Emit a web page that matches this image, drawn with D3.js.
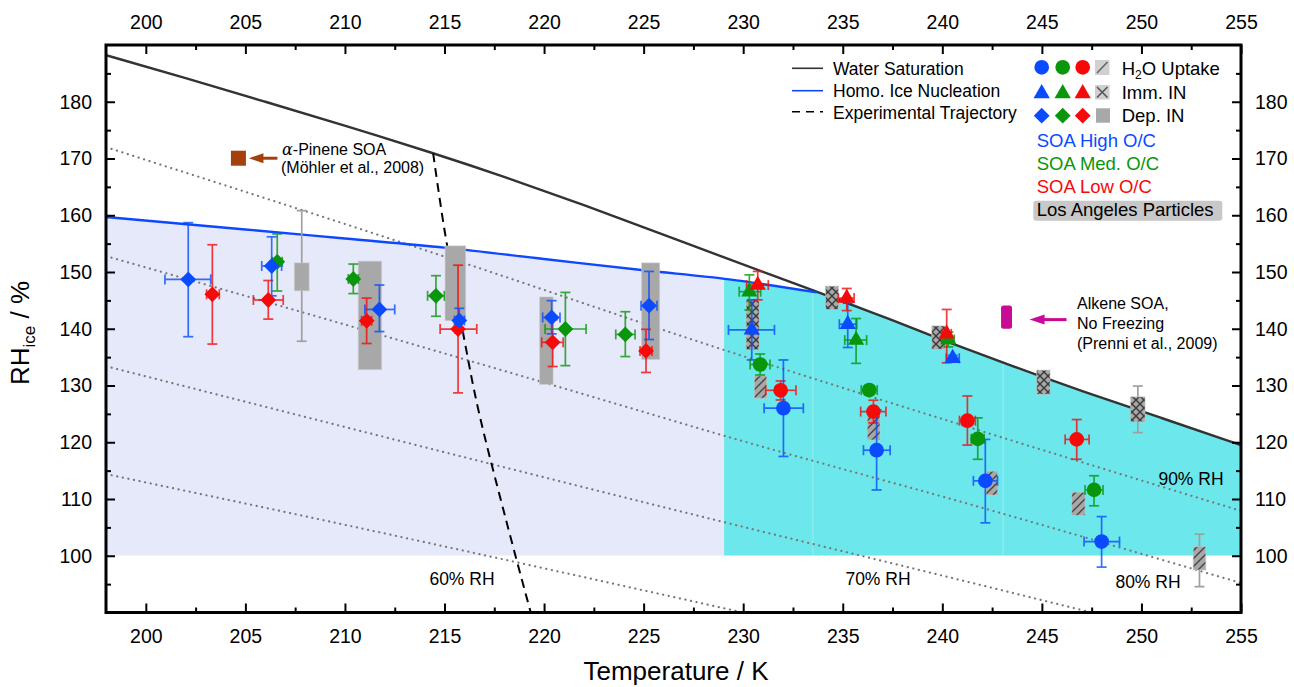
<!DOCTYPE html>
<html><head><meta charset="utf-8">
<script src="https://cdn.jsdelivr.net/npm/d3@7"></script>
<style>
html,body{margin:0;padding:0;background:#fff;}
svg{display:block;font-family:"Liberation Sans",Arial,Helvetica,sans-serif;}
</style></head><body>
<svg id="chart" width="1294" height="687"></svg>
<script>
// ---------------- DATA ----------------
const xTicksMajor = [200,205,210,215,220,225,230,235,240,245,250,255];
const xTicksMinor = [202.5,207.5,212.5,217.5,222.5,227.5,232.5,237.5,242.5,247.5,252.5];
const yTicksMajor = [100,110,120,130,140,150,160,170,180];
const yTicksMinor = [95,105,115,125,135,145,155,165,175,185];

// Water saturation line (RH_ice at RH_w = 100%)
const waterT  = [198,202,206,210,214.4,218,222,226,229.3,233.9,237,240,243.4,247,251,255];
const waterRH = [188.2,184.2,180.0,175.8,171.0,166.8,161.8,156.6,152.2,146.3,142.2,138.0,133.6,129.0,124.3,119.5];
// Homogeneous ice nucleation line
const homoT  = [198,205,210,215,220,225,229.3,233.7];
const homoRH = [159.7,157.5,155.9,154.3,152.3,150.3,148.7,146.4];
// Constant RH (w.r.t. water) lines
const rh90T = [198,215.1,228.3,243.4,255];          const rh90 = [172.0,152.6,137.1,120.4,107.9];
const rh80T = [198,209.25,224.65,228.3,242.05,255]; const rh80 = [152.8,141.5,125.7,121.9,108.4,95.2];
const rh70T = [198,228.6,242.9,247.5];              const rh70 = [133.4,106.3,94.0,90.0];
const rh60T = [198,208.87,230.0];                   const rh60 = [114.4,106.3,90.0];
// Experimental trajectory
const trajT  = [214.43,215.0,216.0,216.7,218.09,219.33];
const trajRH = [170.9,157.4,138.0,125.7,106.3,90.0];
// Region split (temperature)
const regionEdges = [198,229.04,255];
const regionSeams = [233.5,243.05];

// SOA series: [T, RH, Tlo, Thi, RHlo, RHhi]
const depHigh = [[202.13,148.7,200.96,203.26,138.6,158.7],[206.32,151.06,205.82,206.82,145.8,156.2],[211.73,143.4,211.0,212.5,139.5,147.7],[215.74,141.45,215.5,216.0,139.3,143.6],[220.38,142.0,219.93,220.8,139.1,144.95],[225.27,144.06,224.87,225.67,138.1,150.1]];
const depMed  = [[206.6,151.8,206.35,206.85,146.65,156.7],[210.42,148.77,210.17,210.67,146.2,151.4],[214.57,145.8,214.15,214.99,142.2,149.35],[221.07,139.96,220.05,222.11,133.5,146.4],[224.08,139.0,223.6,224.57,135.1,143.0]];
const depLow  = [[203.34,146.07,203.05,203.69,137.3,154.8],[206.15,145.07,205.4,206.9,141.7,148.5],[211.09,141.4,210.84,211.34,137.4,145.4],[215.68,139.95,214.78,216.62,128.7,151.2],[220.43,137.6,219.88,220.96,133.35,141.6],[225.12,136.1,224.82,225.42,132.3,139.9]];
const immHigh = [[230.43,139.8,229.26,231.57,134.5,145.1],[235.25,140.8,234.83,235.7,136.7,144.5],[240.52,134.8,240.2,240.85,134.3,135.3]];
const immMed  = [[230.31,146.53,229.8,230.88,143.3,149.5],[235.67,138.0,235.1,236.2,133.9,141.8],[240.3,138.1,240.0,240.6,136.8,139.4]];
const immLow  = [[230.73,147.7,230.17,231.26,145.1,150.1],[235.2,145.4,234.78,235.57,143.2,147.1],[240.22,139.1,240.0,240.45,134.0,143.4]];
const uptHigh = [[232.02,126.0,231.05,233.02,117.5,134.5],[236.7,118.6,236.04,237.38,111.6,125.7],[242.16,113.2,241.56,242.77,105.8,120.5],[248.0,102.5,247.12,248.9,98.0,106.9]];
const uptMed  = [[230.85,133.7,230.35,231.35,131.85,135.55],[236.33,129.2,235.93,236.73,128.4,130.0],[241.78,120.6,241.45,242.1,117.0,124.3],[247.62,111.6,247.17,248.07,108.8,114.1]];
const uptLow  = [[231.88,129.15,231.13,232.65,127.45,130.8],[236.54,125.4,235.9,237.17,123.4,127.4],[241.26,123.8,240.86,241.66,119.5,128.15],[246.75,120.5,246.17,247.37,117.0,124.0]];

// Los Angeles particles: [Tmin, Tmax, RHmin, RHmax, errLo, errHi]
const laDep = [[207.46,208.2,146.7,151.6,137.8,160.8],[210.67,211.84,132.8,151.9],[215.03,216.06,141.45,154.6],[219.78,220.45,130.2,145.6],[224.9,225.8,134.6,151.6]];
const laImm = [[230.15,230.8,136.3,145.1],[234.13,234.78,143.4,147.5],[239.47,240.14,136.4,140.5],[244.74,245.41,128.45,132.7],[249.46,250.18,123.6,128.0,121.7,129.9]];
const laUpt = [[230.56,231.18,127.75,131.7],[236.23,236.87,120.4,125.1],[242.2,242.78,110.7,114.9],[246.5,247.17,107.1,111.2],[252.6,253.23,97.5,101.6,94.55,103.8]];

// Literature points
const moehlerPoint = [204.65,170.05];
const alkeneBox = [242.95,243.5,140.0,144.1];

// ---------------- STYLE ----------------
const C = {blue:'#0a4bff', green:'#0a960a', red:'#f50a0a', lav:'#e6e9fa', cyan:'#6ce8ec',
           water:'#333333', homo:'#0d47ff', dot:'#777777', la:'#a8a8a8', brown:'#a3400b', mag:'#c80a96'};

const svg = d3.select('#chart');
const x = d3.scaleLinear().domain([198,255]).range([106,1241]);
const y = d3.scaleLinear().domain([90,190]).range([612.5,45]);
const defs = svg.append('defs');
defs.append('clipPath').attr('id','plotClip').append('rect')
  .attr('x',x(198)).attr('y',y(190)).attr('width',x(255)-x(198)).attr('height',y(90)-y(190));

function mkPattern(id,bg,d,stroke){
  const p = defs.append('pattern').attr('id',id).attr('patternUnits','userSpaceOnUse').attr('width',8).attr('height',8);
  p.append('rect').attr('width',8).attr('height',8).attr('fill',bg);
  p.append('path').attr('d',d).attr('stroke',stroke).attr('stroke-width',1.4).attr('fill','none');
}
mkPattern('hatch',C.la,'M-2,2L2,-2M0,8L8,0M6,10L10,6','#454545');
mkPattern('xhatch',C.la,'M0,0L8,8M8,0L0,8','#383838');

const zip = (a,b)=>a.map((v,i)=>[v,b[i]]);
const line = d3.line().x(d=>x(d[0])).y(d=>y(d[1]));

// ---- filled regions ----
const boundary = zip(homoT,homoRH).concat(zip(waterT,waterRH).filter(d=>d[0]>homoT[homoT.length-1]));
defs.append('clipPath').attr('id','regionClip').append('path')
  .attr('d', d3.area().x(d=>x(d[0])).y0(y(100)).y1(d=>y(d[1])).curve(d3.curveMonotoneX)(boundary));
const plot = svg.append('g').attr('clip-path','url(#plotClip)');
const regions = plot.append('g').attr('clip-path','url(#regionClip)');
regions.selectAll('rect').data([[regionEdges[0],regionEdges[1],C.lav],[regionEdges[1],regionEdges[2],C.cyan]])
  .join('rect').attr('x',d=>x(d[0])).attr('width',d=>x(d[1])-x(d[0]))
  .attr('y',y(190)).attr('height',y(100)-y(190)).attr('fill',d=>d[2]);
regions.selectAll('line').data(regionSeams).join('line')
  .attr('x1',d=>x(d)).attr('x2',d=>x(d)).attr('y1',y(190)).attr('y2',y(100))
  .attr('stroke','rgba(255,255,255,0.3)').attr('stroke-width',1);

// ---- dotted RH lines ----
[[rh90T,rh90],[rh80T,rh80],[rh70T,rh70],[rh60T,rh60]].forEach(([t,v])=>{
  plot.append('path').attr('d',line.curve(d3.curveMonotoneX)(zip(t,v)))
    .attr('fill','none').attr('stroke',C.dot).attr('stroke-width',2.2)
    .attr('stroke-dasharray','0.1,5.6').attr('stroke-linecap','round');
});

// ---- water saturation & homo lines ----
plot.append('path').attr('d',line.curve(d3.curveBasis)(zip(waterT,waterRH)))
  .attr('fill','none').attr('stroke',C.water).attr('stroke-width',2.4);
plot.append('path').attr('d',line.curve(d3.curveMonotoneX)(zip(homoT,homoRH)))
  .attr('fill','none').attr('stroke',C.homo).attr('stroke-width',2.4);
// ---- trajectory ----
plot.append('path').attr('d',line.curve(d3.curveCatmullRom)(zip(trajT,trajRH)))
  .attr('fill','none').attr('stroke','#000').attr('stroke-width',2).attr('stroke-dasharray','9,6');

// ---- RH labels ----
const rhLabels = [['60% RH',462,585],['70% RH',878,585],['80% RH',1148,588],['90% RH',1191,485]];
svg.append('g').selectAll('text').data(rhLabels).join('text')
  .attr('x',d=>d[1]).attr('y',d=>d[2]).attr('text-anchor','middle').attr('font-size',17.5).attr('fill','#000').text(d=>d[0]);

// ---- LA particles ----
function errBarV(g,xc,lo,hi,color,cap){
  g.append('line').attr('x1',xc).attr('x2',xc).attr('y1',y(lo)).attr('y2',y(hi)).attr('stroke',color).attr('stroke-width',1.7);
  [lo,hi].forEach(v=>g.append('line').attr('x1',xc-cap).attr('x2',xc+cap).attr('y1',y(v)).attr('y2',y(v)).attr('stroke',color).attr('stroke-width',1.7));
}
function errBarH(g,yc,lo,hi,color,cap){
  g.append('line').attr('y1',yc).attr('y2',yc).attr('x1',x(lo)).attr('x2',x(hi)).attr('stroke',color).attr('stroke-width',1.7);
  [lo,hi].forEach(v=>g.append('line').attr('y1',yc-cap).attr('y2',yc+cap).attr('x1',x(v)).attr('x2',x(v)).attr('stroke',color).attr('stroke-width',1.7));
}
const laG = plot.append('g');
[[laDep,C.la],[laImm,'url(#xhatch)'],[laUpt,'url(#hatch)']].forEach(([arr,fill])=>{
  arr.forEach(d=>{
    if(d.length>4) errBarV(laG,(x(d[0])+x(d[1]))/2,d[4],d[5],'#a0a0a0',5);
    laG.append('rect').attr('x',x(d[0])).attr('width',x(d[1])-x(d[0]))
      .attr('y',y(d[3])).attr('height',y(d[2])-y(d[3])).attr('fill',fill)
      .attr('stroke','rgba(200,200,200,0.6)').attr('stroke-width',1);
  });
});

// ---- SOA markers ----
const symCircle = d3.symbol().type(d3.symbolCircle).size(170)();
const symTri = d3.symbol().type(d3.symbolTriangle).size(115)();
const symDia = d3.symbol().type(d3.symbolSquare).size(125)();
const shapes = {circle:[symCircle,0], tri:[symTri,0], dia:[symDia,45]};
const series = [
  [depLow,C.red,'dia'],[depMed,C.green,'dia'],[depHigh,C.blue,'dia'],
  [immHigh,C.blue,'tri'],[immMed,C.green,'tri'],[immLow,C.red,'tri'],
  [uptMed,C.green,'circle'],[uptLow,C.red,'circle'],[uptHigh,C.blue,'circle']
];
const mG = plot.append('g');
series.forEach(([arr,col,sh])=>{
  arr.forEach(d=>{
    const g = mG.append('g').attr('opacity',0.8);
    errBarV(g,x(d[0]),d[4],d[5],col,5);
    errBarH(g,y(d[1]),d[2],d[3],col,5);
  });
});
series.forEach(([arr,col,sh])=>{
  mG.append('g').selectAll('path').data(arr).join('path')
    .attr('d',shapes[sh][0]).attr('fill',col)
    .attr('transform',d=>`translate(${x(d[0])},${y(d[1])}) rotate(${shapes[sh][1]})`);
});

// ---- literature annotations ----
const mx = x(moehlerPoint[0]), my = y(moehlerPoint[1]);
svg.append('rect').attr('x',mx-7.5).attr('y',my-7.5).attr('width',15).attr('height',15).attr('fill',C.brown);
svg.append('line').attr('x1',mx+39).attr('x2',mx+22).attr('y1',my).attr('y2',my).attr('stroke',C.brown).attr('stroke-width',3);
svg.append('path').attr('d',`M${mx+10.5},${my}L${mx+25},${my-5}L${mx+25},${my+5}Z`).attr('fill',C.brown);
const at1 = svg.append('text').attr('x',282).attr('y',155).attr('font-size',16);
at1.append('tspan').attr('font-family','"DejaVu Serif","Liberation Serif",serif').attr('font-style','italic').text('α');
at1.append('tspan').text('-Pinene SOA');
svg.append('text').attr('x',281).attr('y',173).attr('font-size',16).text('(Möhler et al., 2008)');

const ax0 = x(alkeneBox[0]), ax1 = x(alkeneBox[1]);
svg.append('rect').attr('x',ax0).attr('width',ax1-ax0).attr('y',y(alkeneBox[3])).attr('height',y(alkeneBox[2])-y(alkeneBox[3]))
  .attr('rx',2.5).attr('fill',C.mag);
const acy = (y(alkeneBox[2])+y(alkeneBox[3]))/2 + 2.5, acx = (ax0+ax1)/2;
svg.append('line').attr('x1',acx+60).attr('x2',acx+34).attr('y1',acy).attr('y2',acy).attr('stroke',C.mag).attr('stroke-width',3);
svg.append('path').attr('d',`M${acx+23},${acy}L${acx+38},${acy-5}L${acx+38},${acy+5}Z`).attr('fill',C.mag);
[['Alkene SOA,',309],['No Freezing',329],['(Prenni et al., 2009)',349]].forEach(t=>
  svg.append('text').attr('x',1077).attr('y',t[1]).attr('font-size',16).text(t[0]));

// ---- axes ----
function styleAxis(g){
  g.select('.domain').remove();
  g.selectAll('.tick line').attr('stroke','#000').attr('stroke-width',2);
  g.selectAll('.tick text').attr('font-size',19.5).attr('fill','#000')
    .attr('font-family','"Liberation Sans",Arial,Helvetica,sans-serif');
}
const fmt = d3.format('d');
svg.append('g').attr('transform',`translate(0,${y(90)})`).call(d3.axisBottom(x).tickValues(xTicksMajor).tickSize(-9).tickPadding(17).tickFormat(fmt)).call(styleAxis);
svg.append('g').attr('transform',`translate(0,${y(90)})`).call(d3.axisBottom(x).tickValues(xTicksMinor).tickSize(-5).tickFormat('')).call(styleAxis);
svg.append('g').attr('transform',`translate(0,${y(190)})`).call(d3.axisTop(x).tickValues(xTicksMajor).tickSize(-9).tickPadding(16).tickFormat(fmt)).call(styleAxis);
svg.append('g').attr('transform',`translate(0,${y(190)})`).call(d3.axisTop(x).tickValues(xTicksMinor).tickSize(-5).tickFormat('')).call(styleAxis);
svg.append('g').attr('transform',`translate(${x(198)},0)`).call(d3.axisLeft(y).tickValues(yTicksMajor).tickSize(-9).tickPadding(14).tickFormat(fmt)).call(styleAxis);
svg.append('g').attr('transform',`translate(${x(198)},0)`).call(d3.axisLeft(y).tickValues(yTicksMinor).tickSize(-5).tickFormat('')).call(styleAxis);
svg.append('g').attr('transform',`translate(${x(255)},0)`).call(d3.axisRight(y).tickValues(yTicksMajor).tickSize(-9).tickPadding(14).tickFormat(fmt)).call(styleAxis);
svg.append('g').attr('transform',`translate(${x(255)},0)`).call(d3.axisRight(y).tickValues(yTicksMinor).tickSize(-5).tickFormat('')).call(styleAxis);
svg.append('rect').attr('x',x(198)).attr('y',y(190)).attr('width',x(255)-x(198)).attr('height',y(90)-y(190))
  .attr('fill','none').attr('stroke','#000').attr('stroke-width',3);

// axis titles
svg.append('text').attr('x',676).attr('y',680).attr('text-anchor','middle').attr('font-size',26).text('Temperature / K');
const yl = svg.append('text').attr('transform','translate(29,333) rotate(-90)').attr('text-anchor','middle').attr('font-size',26);
yl.append('tspan').text('RH');
yl.append('tspan').attr('font-size',17).attr('dy',6).text('ice');
yl.append('tspan').attr('dy',-6).text(' / %');

// ---- legend ----
const lg = svg.append('g');
const legLines = [['Water Saturation',C.water,null,68.3,75],['Homo. Ice Nucleation',C.homo,null,90.7,97],['Experimental Trajectory','#000','8,6',111.7,118.5]];
legLines.forEach(r=>{
  lg.append('line').attr('x1',792).attr('x2',823).attr('y1',r[3]).attr('y2',r[3]).attr('stroke',r[1]).attr('stroke-width',1.6).attr('stroke-dasharray',r[2]);
  lg.append('text').attr('x',833).attr('y',r[4]).attr('font-size',17.5).text(r[0]);
});
const legCols = [C.blue,C.green,C.red], legX = [1041.7,1062.7,1082.7];
[[symCircle,0,67.3],[symTri,0,93.5],[symDia,45,115.7]].forEach(r=>{
  legCols.forEach((c,i)=>lg.append('path').attr('d',r[0]).attr('fill',c).attr('transform',`translate(${legX[i]},${r[2]}) rotate(${r[1]})`));
});
lg.append('rect').attr('x',1095).attr('y',60).attr('width',14.5).attr('height',15).attr('fill','#d0d0d0');
lg.append('line').attr('x1',1097).attr('y1',73).attr('x2',1107.5).attr('y2',62).attr('stroke','#666').attr('stroke-width',1.6);
lg.append('rect').attr('x',1095).attr('y',85).attr('width',14.5).attr('height',14.5).attr('fill','#d0d0d0');
lg.append('path').attr('d','M1097,87L1107.5,97.5M1107.5,87L1097,97.5').attr('stroke','#555').attr('stroke-width',1.6);
lg.append('rect').attr('x',1096).attr('y',108.3).attr('width',14).attr('height',14.4).attr('fill',C.la);
const h2o = lg.append('text').attr('x',1121.7).attr('y',74.5).attr('font-size',18.5);
h2o.append('tspan').text('H'); h2o.append('tspan').attr('font-size',12).attr('dy',4).text('2'); h2o.append('tspan').attr('dy',-4).text('O Uptake');
lg.append('text').attr('x',1121.7).attr('y',98.5).attr('font-size',18.5).text('Imm. IN');
lg.append('text').attr('x',1121.7).attr('y',122).attr('font-size',18.5).text('Dep. IN');
[['SOA High O/C',C.blue,146.7],['SOA Med. O/C',C.green,170],['SOA Low O/C',C.red,192.7]].forEach(r=>
  lg.append('text').attr('x',1036.7).attr('y',r[2]).attr('font-size',18.5).attr('fill',r[1]).text(r[0]));
lg.append('rect').attr('x',1033.3).attr('y',200.7).attr('width',189).attr('height',20).attr('rx',3).attr('fill','#c8c8c8');
lg.append('text').attr('x',1036.7).attr('y',216).attr('font-size',18.5).text('Los Angeles Particles');
</script>
</body></html>
